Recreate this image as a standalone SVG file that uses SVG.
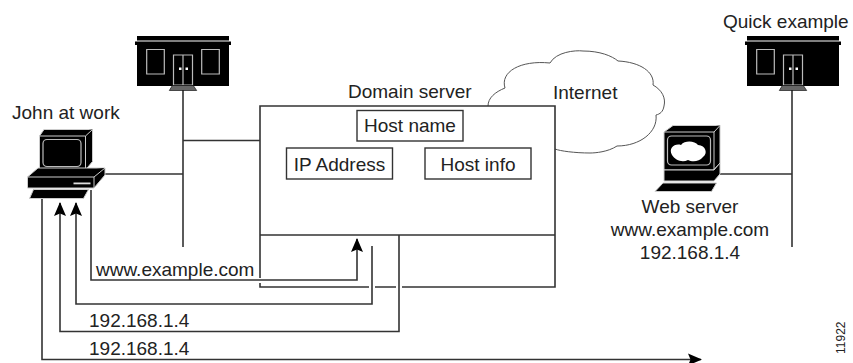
<svg xmlns="http://www.w3.org/2000/svg" width="853" height="363" viewBox="0 0 853 363">
<style>
text{font-family:"Liberation Sans",Arial,sans-serif;font-size:19px;fill:#222}
.m{text-anchor:middle}
.ln{fill:none;stroke:#333;stroke-width:1.6}
.box{fill:#fff;stroke:#333;stroke-width:1.4}
.blk{fill:#000;stroke:#ccc;stroke-width:1;stroke-linejoin:round}
.win{fill:#000;stroke:#bbb;stroke-width:1.2}
.cloud{fill:#fff;stroke:#555;stroke-width:1}
.step{fill:#666;stroke:#000;stroke-width:.6}
</style>
<defs>
<marker id="ah" markerUnits="userSpaceOnUse" markerWidth="15" markerHeight="13" refX="13" refY="6.5" orient="auto">
<path d="M14 6.500L0 .5L2.500 6.500L0 12.500Z" fill="#000"/>
</marker>
<g id="bld">
<rect x="0" y="0" width="92" height="4.5" fill="#000"/>
<path d="M-2 5.500H94V9H-2Z" fill="#000"/>
<rect x="0" y="9" width="92" height="41" fill="#000"/>
<path d="M36.500 19H55.500V49H36.500ZM46 19V49" class="win"/>
<rect x="42" y="31.500" width="2.500" height="2.500" fill="#fff"/>
<rect x="48.500" y="31.500" width="2.500" height="2.500" fill="#fff"/>
<path d="M35.300 49.500H56.300L59.700 54.500H32.300Z" class="step"/>
</g>
</defs>
<g id="connectors">
<path class="ln" d="M183 90V247M183 140.500H260M105 174H183"/>
<path class="ln" d="M720 174H792M792 90V247"/>
<path class="ln" d="M91 190V280H357V239" marker-end="url(#ah)"/>
<path class="ln" d="M372 246V304H76V203" marker-end="url(#ah)"/>
<path class="ln" d="M399 235V331.500H60V203" marker-end="url(#ah)"/>
<path class="ln" d="M42 199V359.500H701" marker-end="url(#ah)"/>
</g>
<g id="internet">
<path class="cloud" d="M488 106C488 98 495 92 505 88C500 72 520 60 550 63C556 52 575 50 583 51C600 51 612 56 618 61C640 62 655 72 653 85C662 90 666 98 664 106C663 112 660 114 656 115C658 132 640 146 617 146C608 152 595 153 590 153C575 153 560 151 555 149"/>
<text x="553" y="99">Internet</text>
</g>
<g id="domain-server">
<path class="ln" d="M260 278V106H555V287H402M396 287H375M369 287H260V283M260 235H555"/>
<text x="348" y="98">Domain server</text>
</g>
<g id="host-name"><rect class="box" x="357" y="110.500" width="106" height="30.500"/><text class="m" x="410" y="132">Host name</text></g>
<g id="ip-address"><rect class="box" x="286.500" y="148" width="106" height="31"/><text class="m" x="339.500" y="171">IP Address</text></g>
<g id="host-info"><rect class="box" x="425" y="148" width="106" height="31"/><text class="m" x="478" y="171">Host info</text></g>
<g id="john">
<text x="12" y="119">John at work</text>
<path class="blk" d="M39.500 136L44 129.500H92.500V161.500L85.500 170H39.500Z"/>
<path class="blk" d="M39.500 136H85.500L92.500 129.500M85.500 136V170"/>
<rect x="43" y="139.500" width="38" height="27" rx="4" class="win"/>
<path class="blk" d="M27.500 177L38 168H105V175L94 188H27.500Z"/>
<path class="blk" d="M27.500 177H94L105 168M94 177V188"/>
<rect x="73.500" y="182.500" width="17" height="1.800" fill="#ddd"/>
<path class="blk" d="M33.500 189.500H88.500L83.500 198.500H29.500Z"/>
</g>
<g id="web-server">
<path class="blk" d="M664 132L673 125.500H720V163L713.500 170H664Z"/>
<path class="blk" d="M664 132H714L720 125.500M714 132V170"/>
<rect x="667.500" y="136" width="43" height="29" rx="4" class="win"/>
<path d="M672 155C668 148 675 143 681 145C685 140 695 141 698 145C706 145 708 154 703 157C699 162 692 162 688 160C682 163 675 160 672 155Z" fill="#fff"/>
<path class="blk" d="M664 170H714L720 163V174L714 181H664Z"/>
<path class="blk" d="M663 183H716.500L711.500 191.500H655Z"/>
<text class="m" x="690" y="213">Web server</text>
<text class="m" x="690" y="236">www.example.com</text>
<text class="m" x="690" y="259">192.168.1.4</text>
</g>
<g id="office"><use href="#bld" x="137" y="36"/><path class="win" d="M146.700 49.500H164.300V74H146.700ZM201.700 49.500H219.300V74H201.700Z"/></g>
<g id="quick-example">
<text x="723" y="28">Quick example</text>
<use href="#bld" x="747" y="36"/>
<path class="win" d="M756.700 49.500H774.300V74H756.700Z"/>
</g>
<g id="labels">
<rect x="94" y="260" width="164" height="19" fill="#fff"/>
<text x="96" y="276">www.example.com</text>
<text x="89" y="327">192.168.1.4</text>
<text x="89" y="355">192.168.1.4</text>
<text x="845" y="354" transform="rotate(-90 845 354)" style="font-size:12px">11922</text>
</g>
</svg>
